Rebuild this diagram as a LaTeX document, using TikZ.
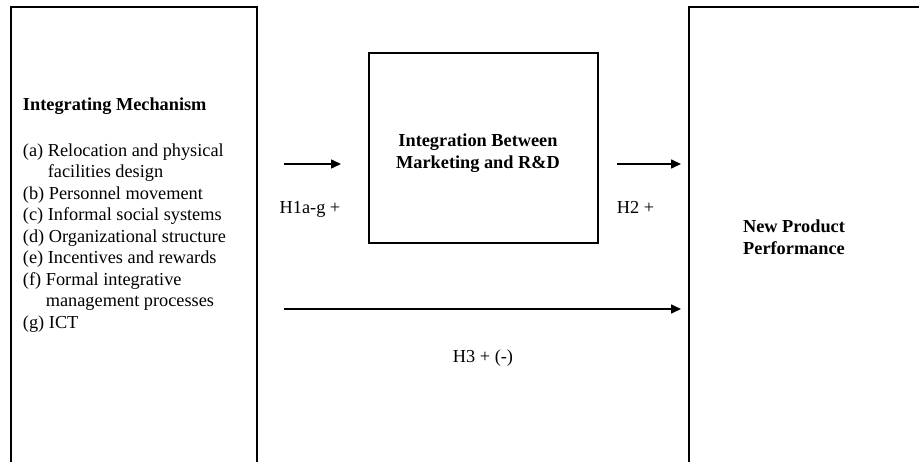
\documentclass[tikz,border=0pt]{standalone}
\usepackage{fontspec}
\setmainfont{Liberation Serif}
\usetikzlibrary{arrows.meta, positioning}

\begin{document}
\begin{tikzpicture}[
    x=1pt, y=-1pt,
    >={Triangle[length=10pt, width=9pt]},
    font=\fontsize{18.3}{21.5}\selectfont,
    every node/.style={inner sep=0pt, outer sep=0pt},
    frame/.style={rectangle, draw, line width=2pt},
    title/.style={anchor=base, align=center, font=\fontsize{18.3}{22}\selectfont\bfseries},
    line/.style={->, line width=1.6pt},
    hyp/.style={anchor=base}
]
\useasboundingbox (0,0) rectangle (919,461);
\clip (0,0) rectangle (919,461);
\node[frame, minimum width=246pt, minimum height=480pt, anchor=north west] (mech) at (11,7) {};
\node[frame, minimum width=260pt, minimum height=480pt, anchor=north west] (perf) at (689,7) {};
\node[frame, minimum width=229pt, minimum height=190pt] (integ) at (483.5,148) {};
\node[anchor=base west, align=left] (mechtext) at (23,328) {\textbf{Integrating Mechanism}\\[24.5pt]
    (a) Relocation and physical\\
    \hphantom{(a)}\ facilities design\\
    (b) Personnel movement\\
    (c) Informal social systems\\
    (d) Organizational structure\\
    (e) Incentives and rewards\\
    (f) Formal integrative\\
    \hphantom{(f)}\ management processes\\
    (g) ICT};
\node[title] (integtext) at (478,168) {Integration Between\\Marketing and R\&D};
\node[title] (perftext) at (794,254) {New Product\\Performance};
\coordinate (h1s) at (284,164);
\coordinate (h3s) at (284,309);
\draw[line, shorten >=28pt] (h1s) -- (h1s -| integ.west);
\draw[line, shorten <=19pt, shorten >=8pt] (h1s -| integ.east) -- (h1s -| perf.west);
\draw[line, shorten >=8pt] (h3s) -- (h3s -| perf.west);
\node[hyp] (h1) at (310,213) {H1a-g +};
\node[hyp] (h2) at (635.5,213) {H2 +};
\node[hyp] (h3) at (483,362) {H3 + (-)};
\end{tikzpicture}
\end{document}
